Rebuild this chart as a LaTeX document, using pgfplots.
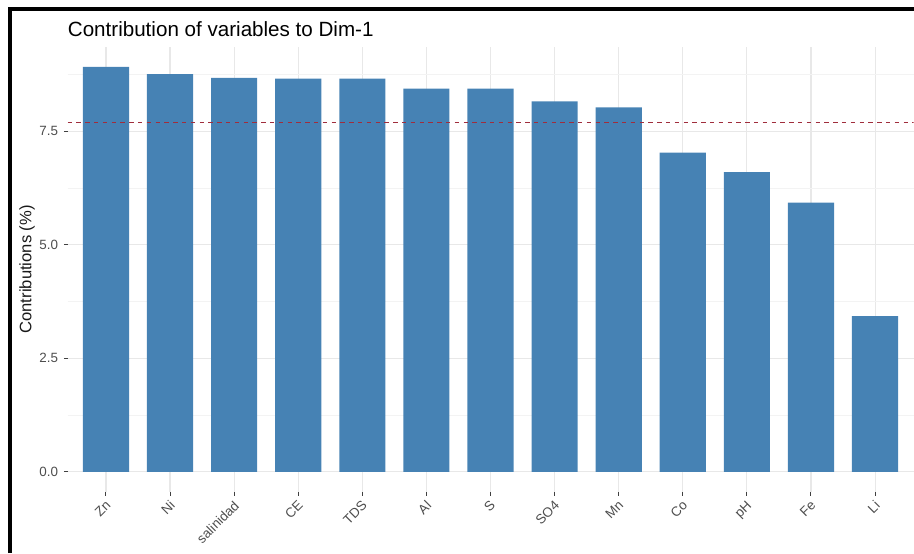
\documentclass[border=0pt]{standalone}
\usepackage{fontspec}
\setmainfont{Liberation Sans}
\usepackage{pgfplots}
\pgfplotsset{compat=1.18}
\definecolor{steelblue}{RGB}{70,130,180}
\definecolor{gridmaj}{RGB}{232,232,232}
\definecolor{gridmin}{RGB}{243,243,243}
\definecolor{ticklab}{RGB}{77,77,77}
\definecolor{refline}{RGB}{160,45,60}
\begin{document}
\begin{tikzpicture}
\path[use as bounding box] (0,0) rectangle (457pt,276.5pt);
\draw[black, line width=1.9pt] (5.15pt,0) -- (5.15pt,271.9pt) -- (457pt,271.9pt);
\begin{axis}[
  at={(33.75pt,30.5pt)}, anchor=south west,
  scale only axis, width=423pt, height=222.65pt,
  xmin=0.4, xmax=13.6, ymin=-0.446, ymax=9.366,
  axis line style={draw=none},
  xtick={1,...,13},
  xticklabels={Zn,Ni,salinidad,CE,TDS,Al,S,SO4,Mn,Co,pH,Fe,Li},
  ytick={0,2.5,5,7.5},
  minor ytick={1.25,3.75,6.25,8.75},
  xtick pos=lower, ytick pos=left,
  grid=both,
  major grid style={gridmaj, line width=0.55pt},
  minor grid style={gridmin, line width=0.35pt},
  tick align=outside, major tick length=1.8pt, minor tick length=0pt,
  tick style={color=black!75, line width=0.5pt},
  yticklabel style={font=\fontsize{6.7}{8}\selectfont, color=ticklab, xshift=0.6pt,
    /pgf/number format/fixed, /pgf/number format/fixed zerofill,
    /pgf/number format/precision=1, /pgf/number format/assume math mode=true},
  xticklabel style={font=\fontsize{6.7}{8}\selectfont, color=ticklab, rotate=45, anchor=north east,
    xshift=1.6pt, yshift=2.4pt},
  ylabel={Contributions (\%)},
  ylabel style={at={(axis description cs:-0.0479,0.5)}, anchor=center, font=\fontsize{8.3}{10}\selectfont, color=black!90},
  title={Contribution of variables to Dim-1},
  title style={at={(axis description cs:0,1)}, anchor=base west, yshift=-0.65pt, inner sep=0pt, font=\fontsize{10.3}{12}\selectfont},
]
\addplot[ybar, bar width=0.72, fill=steelblue, draw=none] coordinates {
  (1,8.92) (2,8.76) (3,8.68) (4,8.66) (5,8.66) (6,8.44) (7,8.44)
  (8,8.16) (9,8.03) (10,7.03) (11,6.60) (12,5.93) (13,3.43)};
\addplot[refline, dash pattern=on 2.2pt off 2.2pt, line width=0.5pt] coordinates {(0.4,7.69) (13.6,7.69)};
\end{axis}
\end{tikzpicture}
\end{document}
